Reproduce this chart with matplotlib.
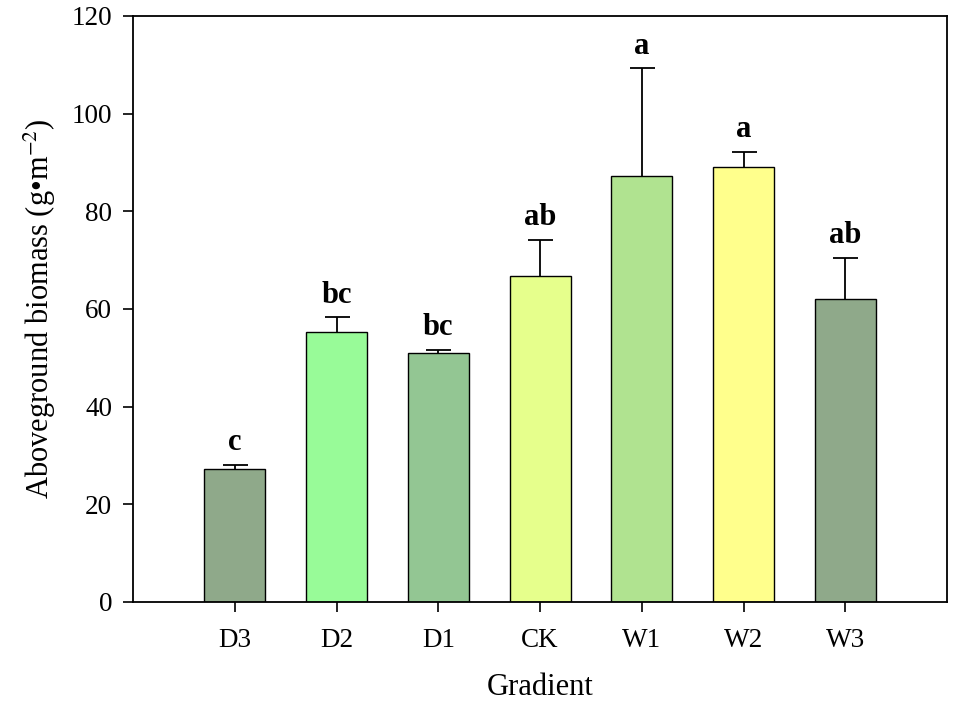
import numpy as np
import matplotlib
matplotlib.use("Agg")
import matplotlib.pyplot as plt

# данные
groups = ["D3", "D2", "D1", "CK", "W1", "W2", "W3"]
biomass = [27.1, 55.2, 51.0, 66.7, 87.3, 89.1, 62.0]
errors = [1.0, 3.1, 0.6, 7.4, 22.0, 3.1, 8.5]
letters = ["c", "bc", "bc", "ab", "a", "a", "ab"]
bar_colors = ["#8fa98a", "#98fb98", "#93c693", "#e6ff8c", "#b0e390", "#ffff8c", "#8fa98a"]

plt.rcParams["font.family"] = ["Liberation Serif", "DejaVu Serif"]
plt.rcParams["mathtext.fontset"] = "stix"

fig = plt.figure(figsize=(9.57, 7.13), dpi=100)
ax = fig.add_axes([0.139, 0.156, 0.8506, 0.8216])

x = np.arange(len(groups))
ax.bar(x, biomass, width=0.6, color=bar_colors, edgecolor="black", linewidth=1.0, zorder=2)
# только верхние усы
_, caps, _ = ax.errorbar(x, biomass, yerr=[np.zeros(len(errors)), errors], fmt="none",
                         ecolor="black", elinewidth=1.3, capsize=9, capthick=1.3, zorder=3)
caps[0].set_visible(False)

# буквы значимости над барами
for xi, v, e, lab in zip(x, biomass, errors, letters):
    ax.text(xi, v + e + 3.0, lab, ha="center", va="baseline", fontsize=22, fontweight="bold")

ax.set_xlim(-1, 7)
ax.set_ylim(0, 120)
ax.set_yticks(np.arange(0, 121, 20))
ax.set_xticks(x)
ax.set_xticklabels(groups)
ax.tick_params(direction="out", length=7, width=1.2, labelsize=19.5)
ax.tick_params(axis="x", pad=12)
ax.tick_params(axis="y", pad=8)
for s in ax.spines.values():
    s.set_linewidth(1.3)

ax.set_xlabel("Gradient", fontsize=22, labelpad=14)
ax.set_ylabel("Aboveground biomass (g\u2022m$^{-2}$)", fontsize=22, labelpad=10)

fig.savefig("out.png", dpi=100)
